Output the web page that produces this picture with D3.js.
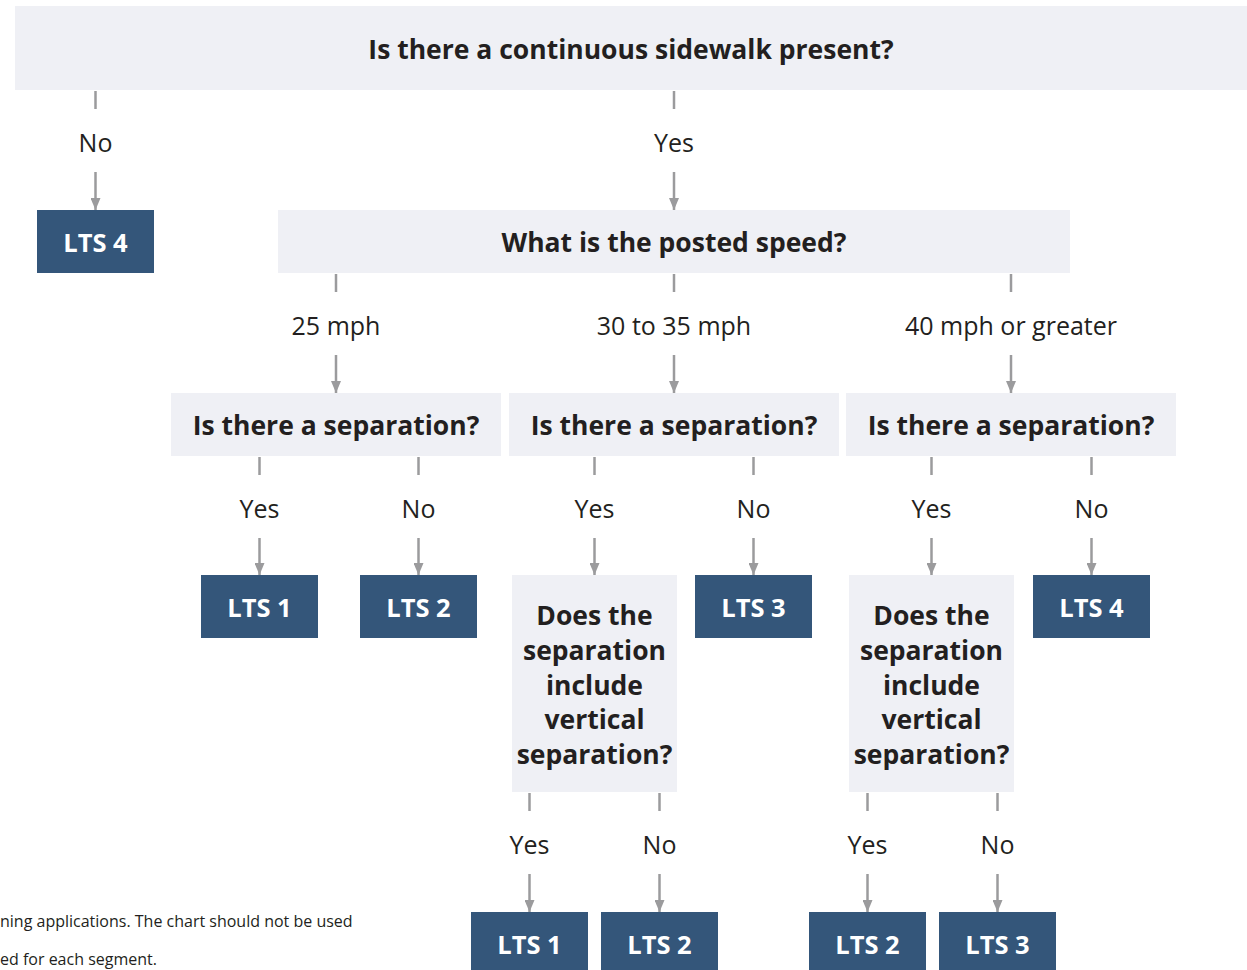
<!DOCTYPE html>
<html lang="en">
<head>
    <meta charset="UTF-8">
    <title>LTS sidewalk flowchart</title>
    <style>
        body { margin: 0; background: #fff; }
        svg { display: block; }
        text { font-family: "Open Sans", Lato, sans-serif; }
    </style>
</head>
<body>
    <div id="chart"></div>
    <script src="https://d3js.org/d3.v7.min.js"></script>
    <script>
        // nodes of the decision tree
        var nodeIds    = ["q0", "lts4a", "q1", "q2a", "q2b", "q2c", "lts1a", "lts2a", "q3a", "lts3a", "q3b", "lts4b", "lts1b", "lts2b", "lts2c", "lts3b"];
        var nodeKinds  = ["question", "outcome", "question", "question", "question", "question", "outcome", "outcome", "question", "outcome", "question", "outcome", "outcome", "outcome", "outcome", "outcome"];
        var nodeTexts  = [
            ["Is there a continuous sidewalk present?"],
            ["LTS 4"],
            ["What is the posted speed?"],
            ["Is there a separation?"],
            ["Is there a separation?"],
            ["Is there a separation?"],
            ["LTS 1"],
            ["LTS 2"],
            ["Does the", "separation", "include", "vertical", "separation?"],
            ["LTS 3"],
            ["Does the", "separation", "include", "vertical", "separation?"],
            ["LTS 4"],
            ["LTS 1"],
            ["LTS 2"],
            ["LTS 2"],
            ["LTS 3"]
        ];

        // edges: parent -> child with branch label
        var edgeFrom   = ["q0", "q0", "q1", "q1", "q1", "q2a", "q2a", "q2b", "q2b", "q2c", "q2c", "q3a", "q3a", "q3b", "q3b"];
        var edgeTo     = ["lts4a", "q1", "q2a", "q2b", "q2c", "lts1a", "lts2a", "q3a", "lts3a", "q3b", "lts4b", "lts1b", "lts2b", "lts2c", "lts3b"];
        var edgeLabels = ["No", "Yes", "25 mph", "30 to 35 mph", "40 mph or greater", "Yes", "No", "Yes", "No", "Yes", "No", "Yes", "No", "Yes", "No"];

        // footnote, only the right part shows inside the page
        var footnoteLines = [
            "ning applications. The chart should not be used",
            "ed for each segment."
        ];

        var W = 1247, H = 970;
        var lightFill = "#eff0f5", darkFill = "#34567a", lineColor = "#9b9b9d", ink = "#231f20";

        var svg = d3.select("#chart").append("svg")
            .attr("width", W)
            .attr("height", H);

        // layout: box extents per node [x0, x1, y0, y1]
        var layout = {
            q0:    [15, 1260, 6, 90],
            lts4a: [37, 154, 210, 273],
            q1:    [278, 1070, 210, 273],
            q2a:   [171, 501, 393, 456],
            q2b:   [509, 839, 393, 456],
            q2c:   [846, 1176, 393, 456],
            lts1a: [201, 318, 575, 638],
            lts2a: [360, 477, 575, 638],
            q3a:   [512, 677, 575, 792],
            lts3a: [695, 812, 575, 638],
            q3b:   [849, 1014, 575, 792],
            lts4b: [1033, 1150, 575, 638],
            lts1b: [471, 588, 912, 975],
            lts2b: [601, 718, 912, 975],
            lts2c: [809, 926, 912, 975],
            lts3b: [939, 1056, 912, 975]
        };

        var nodes = nodeIds.map(function(id, i) {
            var b = layout[id];
            return { id: id, kind: nodeKinds[i], lines: nodeTexts[i], x0: b[0], x1: b[1], y0: b[2], y1: b[3] };
        });
        var byId = {};
        nodes.forEach(function(n) { byId[n.id] = n; });

        var edges = edgeFrom.map(function(f, i) {
            return { from: byId[f], to: byId[edgeTo[i]], label: edgeLabels[i] };
        });

        // arrowhead
        svg.append("defs").append("marker")
            .attr("id", "arrow")
            .attr("viewBox", "0 0 12 10")
            .attr("refX", 12)
            .attr("refY", 5)
            .attr("markerWidth", 12)
            .attr("markerHeight", 10)
            .attr("markerUnits", "userSpaceOnUse")
            .attr("orient", "auto")
            .append("path")
            .attr("d", "M0,0 L12,5 L0,10 Z")
            .attr("fill", lineColor);

        // boxes
        var nodeG = svg.selectAll("g.node")
            .data(nodes)
            .enter()
            .append("g")
            .attr("class", "node");

        nodeG.append("rect")
            .attr("x", function(d) { return d.x0; })
            .attr("y", function(d) { return d.y0; })
            .attr("width", function(d) { return d.x1 - d.x0; })
            .attr("height", function(d) { return d.y1 - d.y0; })
            .attr("fill", function(d) { return d.kind === "outcome" ? darkFill : lightFill; });

        nodeG.each(function(d) {
            var g = d3.select(this);
            var cx = d.id === "q0" ? 631 : (d.x0 + d.x1) / 2;
            var lineH = 34.7;
            var top = d.lines.length > 1 ? d.y0 + 41 : (d.id === "q0" ? 50 : d.y0 + 33);
            d.lines.forEach(function(t, i) {
                g.append("text")
                    .attr("x", cx)
                    .attr("y", top + i * lineH)
                    .attr("dy", "0.35em")
                    .attr("text-anchor", "middle")
                    .attr("font-weight", "bold")
                    .attr("font-size", d.kind === "outcome" ? "25.5px" : (d.lines.length > 1 ? "26.5px" : "26.5px"))
                    .attr("fill", d.kind === "outcome" ? "#ffffff" : ink)
                    .text(t);
            });
        });

        // connectors
        var edgeG = svg.selectAll("g.edge")
            .data(edges)
            .enter()
            .append("g")
            .attr("class", "edge");

        edgeG.append("line")
            .attr("x1", function(d) { return (d.to.x0 + d.to.x1) / 2; })
            .attr("x2", function(d) { return (d.to.x0 + d.to.x1) / 2; })
            .attr("y1", function(d) { return d.from.y1 + 1; })
            .attr("y2", function(d) { return d.from.y1 + 19; })
            .attr("stroke", lineColor)
            .attr("stroke-width", 2.5);

        edgeG.append("text")
            .attr("x", function(d) { return (d.to.x0 + d.to.x1) / 2; })
            .attr("y", function(d) { return d.from.y1 + 53; })
            .attr("dy", "0.35em")
            .attr("text-anchor", "middle")
            .attr("font-size", "25px")
            .attr("fill", ink)
            .text(function(d) { return d.label; });

        edgeG.append("line")
            .attr("x1", function(d) { return (d.to.x0 + d.to.x1) / 2; })
            .attr("x2", function(d) { return (d.to.x0 + d.to.x1) / 2; })
            .attr("y1", function(d) { return d.from.y1 + 82; })
            .attr("y2", function(d) { return d.to.y0; })
            .attr("stroke", lineColor)
            .attr("stroke-width", 2.5)
            .attr("marker-end", "url(#arrow)");

        // footnote (starts at the left edge of the page)
        svg.selectAll("text.foot")
            .data(footnoteLines)
            .enter()
            .append("text")
            .attr("class", "foot")
            .attr("x", 0)
            .attr("y", function(d, i) { return 921 + i * 38; })
            .attr("dy", "0.35em")
            .attr("font-size", "16px")
            .attr("fill", ink)
            .text(function(d) { return d; });
    </script>
</body>
</html>
